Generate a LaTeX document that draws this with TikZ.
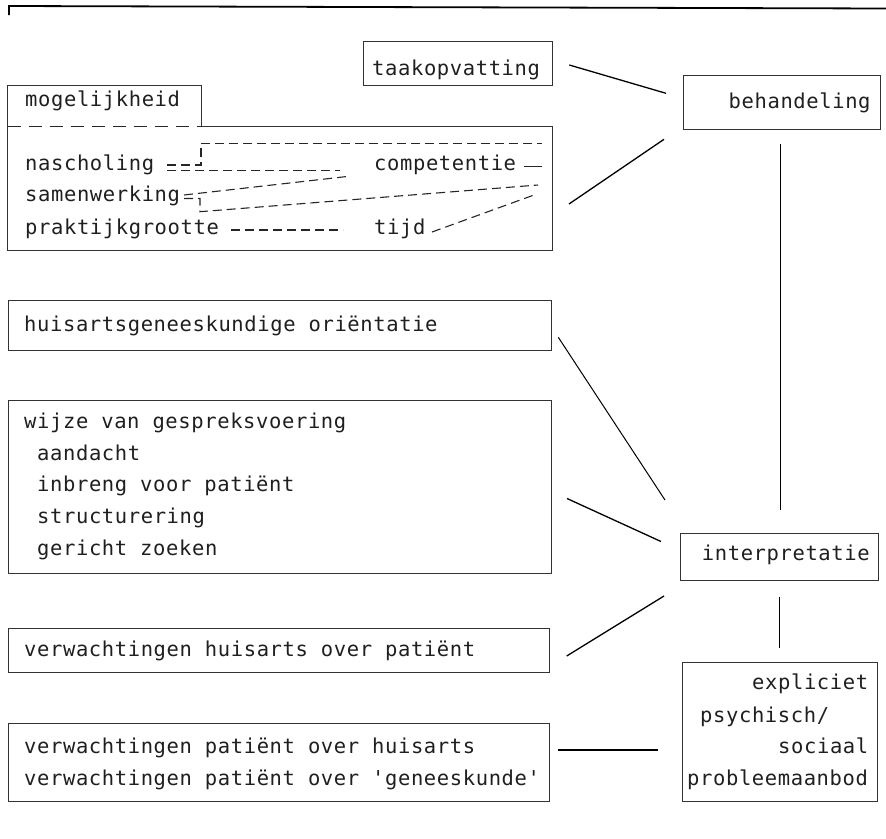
\documentclass[tikz,border=0pt]{standalone}
\usepackage{fontspec}
\newfontfamily\plotfont[LetterSpace=3,Ligatures=TeXOff]{DejaVu Sans Mono}
\begin{document}
\begin{tikzpicture}[x=1pt,y=-1pt,
  box/.style={draw=black!80, line width=1pt, inner sep=0pt, anchor=north west},
  txt/.style={inner sep=0pt, anchor=base west, text=black!88,
    font=\plotfont\fontsize{20.5}{24}\selectfont},
  conn/.style={draw=black, line width=1.3pt},
  dline/.style={draw=black!85, line width=1.1pt, dash pattern=on 9pt off 5pt},
  tabdash/.style={draw=black!85, line width=1.1pt, dash pattern=on 13pt off 8pt},
  topline/.style={draw=black, line width=1.8pt}]
\useasboundingbox (0,0) rectangle (886,838);

% top rule
\draw[topline] (9,15) -- (9,6) -- (886,8.5);

% ---------- boxes ----------
\node[box, minimum width=189.5pt, minimum height=44pt] (taak) at (362.5,41) {};
\node[box, minimum width=197pt, minimum height=54pt] (beh) at (682.5,75) {};
\node[box, minimum width=543pt, minimum height=50pt] (huis) at (7.5,299.5) {};
\node[box, minimum width=543pt, minimum height=173pt] (wijze) at (7.5,399.5) {};
\node[box, minimum width=541.5pt, minimum height=44.5pt] (vhuis) at (7.5,627.5) {};
\node[box, minimum width=541.5pt, minimum height=78pt] (vpat) at (7.5,722.5) {};
\node[box, minimum width=198pt, minimum height=47.5pt] (interp) at (679.5,532.5) {};
\node[box, minimum width=195pt, minimum height=139pt] (expl) at (682,661.5) {};

% mogelijkheid box with tab
\draw[draw=black!80, line width=1pt] (201.5,126.5) -- (201.5,85) -- (7.5,85) -- (7.5,250) -- (552,250) -- (552,126.5) -- cycle;
\draw[tabdash] (7.5,126.5) -- (201.5,126.5);

% ---------- texts ----------
\node[txt] (ttaak) at (372,75.5) {taakopvatting};
\node[txt] (tbeh) at (728.5,108.3) {behandeling};
\node[txt] (tmog) at (25,106.7) {mogelijkheid};
\node[txt] (tnas) at (25,170.7) {nascholing};
\node[txt] (tcomp) at (374,170.7) {competentie};
\node[txt] (tsam) at (25,201.7) {samenwerking};
\node[txt] (tprak) at (25,234) {praktijkgrootte};
\node[txt] (ttijd) at (374,234) {tijd};
\node[txt] (thuis) at (24,331.7) {huisartsgeneeskundige oriëntatie};
\node[txt] (tw1) at (24,428) {wijze van gespreksvoering};
\node[txt] (tw2) at (37,460) {aandacht};
\node[txt] (tw3) at (37,491.7) {inbreng voor patiënt};
\node[txt] (tw4) at (37,523) {structurering};
\node[txt] (tw5) at (37,555) {gericht zoeken};
\node[txt] (tvh) at (24,656) {verwachtingen huisarts over patiënt};
\node[txt] (tvp1) at (24,753.5) {verwachtingen patiënt over huisarts};
\node[txt] (tvp2) at (24,785) {verwachtingen patiënt over 'geneeskunde'};
\node[txt] (tint) at (701.7,560) {interpretatie};
\node[txt] (te1) at (752,689) {expliciet};
\node[txt] (te2) at (700,722) {psychisch/};
\node[txt] (te3) at (778,753.5) {sociaal};
\node[txt] (te4) at (687,785) {probleemaanbod};

% ---------- dashed lines inside mogelijkheid ----------
\coordinate (dA1) at (167,165);   \coordinate (dA2) at (201,165);
\coordinate (dA3) at (201,143.3); \coordinate (dA4) at (541.5,143.3);
\coordinate (dB1) at (167,170.7); \coordinate (dB2) at (340,170.7);
\coordinate (dC1) at (184,195);   \coordinate (dC2) at (347,176.5);
\coordinate (dD1) at (184,198.5); \coordinate (dD2) at (200,198.5);
\coordinate (dD3) at (200,211.7); \coordinate (dD4) at (538,185);
\coordinate (dE1) at (231,230);   \coordinate (dE2) at (343,230);
\coordinate (dF1) at (432,232);   \coordinate (dF2) at (534,195);
\coordinate (dG1) at (524,166.5); \coordinate (dG2) at (542,166.5);
\draw[dline] (dA1) -- (dA2) -- (dA3) -- (dA4);
\draw[dline] (dB1) -- (dB2);
\draw[dline] (dC1) -- (dC2);
\draw[dline] (dD1) -- (dD2) -- (dD3) -- (dD4);
\draw[dline] (dE1) -- (dE2);
\draw[dline] (dF1) -- (dF2);
\draw[dline, dash pattern=on 18pt off 5pt] (dG1) -- (dG2);

% ---------- connectors ----------
\coordinate (c1a) at (569.3,65);   \coordinate (c1b) at (666,93.3);
\coordinate (c2a) at (569,204);    \coordinate (c2b) at (664,139.3);
\coordinate (c3a) at (780.5,144);  \coordinate (c3b) at (780.5,510);
\coordinate (c4a) at (558.3,337.3);\coordinate (c4b) at (665,500);
\coordinate (c5a) at (567,498.5);  \coordinate (c5b) at (661,541.5);
\coordinate (c6a) at (566.7,656);  \coordinate (c6b) at (664,596);
\coordinate (c7a) at (779,596.5);  \coordinate (c7b) at (779,648.3);
\coordinate (c8a) at (558.3,750);  \coordinate (c8b) at (658.3,750);
\draw[conn] (c1a) -- (c1b);
\draw[conn] (c2a) -- (c2b);
\draw[conn, line width=1pt] (c3a) -- (c3b);
\draw[conn, line width=1pt] (c4a) -- (c4b);
\draw[conn] (c5a) -- (c5b);
\draw[conn] (c6a) -- (c6b);
\draw[conn, line width=1pt] (c7a) -- (c7b);
\draw[conn] (c8a) -- (c8b);
\end{tikzpicture}
\end{document}
